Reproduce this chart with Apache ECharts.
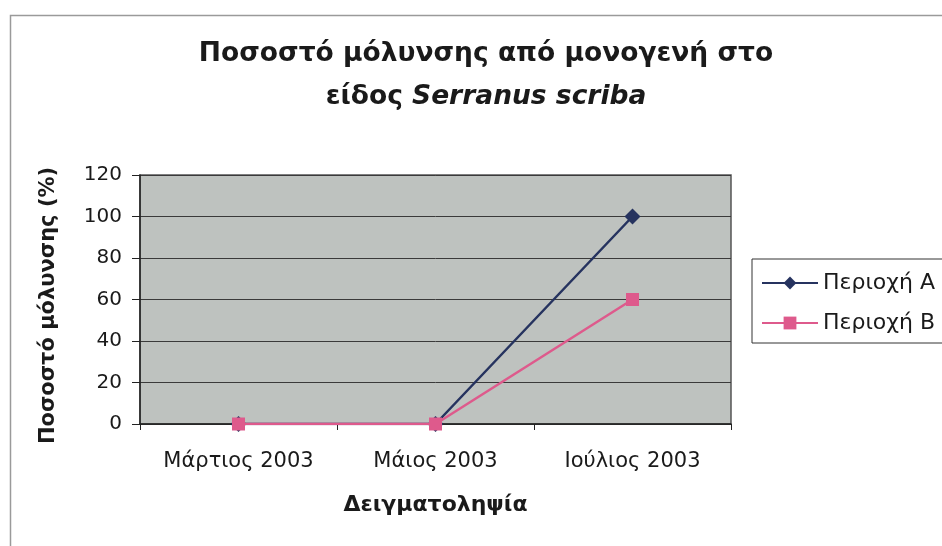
<!DOCTYPE html>
<html>
<head>
<meta charset="utf-8">
<script src="https://cdn.jsdelivr.net/npm/echarts@6/dist/echarts.min.js"></script>
<style>html,body{margin:0;padding:0;background:#fff}#c{width:942px;height:546px}</style>
</head>
<body>
<div id="c"></div>
<script>
const categories = ['Μάρτιος 2003', 'Μάιος 2003', 'Ιούλιος 2003'];
const seriesA = [0, 0, 100];
const seriesB = [0, 0, 60];
const seriesNames = ['Περιοχή Α', 'Περιοχή Β'];
const yTicks = { min: 0, max: 120, interval: 20 };

const FONT = '"DejaVu Sans", "Liberation Sans", Arial, sans-serif';
const chart = echarts.init(document.getElementById('c'), null, { renderer: 'canvas' });
chart.setOption({
  animation: false,
  backgroundColor: '#ffffff',
  textStyle: { fontFamily: FONT },
  graphic: [{
    type: 'rect', left: 8, top: 13, shape: { width: 1000, height: 600 },
    style: { fill: 'none', stroke: '#9a9a9a', lineWidth: 1.5 }, silent: true, z: -10
  }],
  title: {
    text: '{b|Ποσοστό μόλυνσης από μονογενή στο}\n{b|είδος }{i|Serranus scriba}',
    left: 481, top: 28, textAlign: 'center',
    textStyle: {
      rich: {
        b: { fontFamily: FONT, fontWeight: 'bold', fontSize: 26.5, color: '#1a1a1a', lineHeight: 43 },
        i: { fontFamily: FONT, fontWeight: 'bold', fontStyle: 'italic', fontSize: 26.5, color: '#1a1a1a', lineHeight: 43 }
      }
    }
  },
  legend: {
    orient: 'vertical',
    left: 752, top: 259,
    padding: [12, 40, 8, 9],
    itemWidth: 56, itemHeight: 16, itemGap: 16,
    borderColor: '#333', borderWidth: 1,
    backgroundColor: '#fff',
    textStyle: { fontFamily: FONT, fontSize: 22, color: '#1a1a1a', lineHeight: 24 },
    data: seriesNames
  },
  grid: {
    left: 140, right: 211, top: 175, bottom: 122,
    show: true, backgroundColor: '#bec2bf', borderColor: '#555', borderWidth: 1.5,
    containLabel: false
  },
  xAxis: {
    type: 'category', data: categories, boundaryGap: true,
    name: 'Δειγματοληψία', nameLocation: 'middle', nameGap: 70,
    nameTextStyle: { fontFamily: FONT, fontWeight: 'bold', fontSize: 22, color: '#1a1a1a' },
    axisLine: { lineStyle: { color: '#222', width: 1.5 } },
    axisTick: { show: true, length: 6, lineStyle: { color: '#222' } },
    axisLabel: { fontFamily: FONT, fontSize: 21, color: '#1a1a1a', margin: 27 },
    splitLine: { show: false }
  },
  yAxis: {
    type: 'value', min: yTicks.min, max: yTicks.max, interval: yTicks.interval,
    name: 'Ποσοστό μόλυνσης (%)', nameLocation: 'middle', nameGap: 81, nameRotate: 90,
    nameTextStyle: { fontFamily: FONT, fontWeight: 'bold', fontSize: 21, color: '#1a1a1a', padding: [0, 12, 0, 0] },
    axisLine: { show: true, lineStyle: { color: '#222', width: 1.5 } },
    axisTick: { show: true, length: 8, lineStyle: { color: '#222' } },
    axisLabel: { fontFamily: FONT, fontSize: 20, color: '#1a1a1a', margin: 18 },
    splitLine: { show: true, lineStyle: { color: '#3a3a3a', width: 1 } }
  },
  series: [
    {
      name: seriesNames[0], type: 'line', data: seriesA,
      symbol: 'diamond', symbolSize: 16,
      lineStyle: { color: '#26335f', width: 2.5 },
      itemStyle: { color: '#26335f' }, z: 3
    },
    {
      name: seriesNames[1], type: 'line', data: seriesB,
      symbol: 'rect', symbolSize: 13,
      lineStyle: { color: '#de5a8c', width: 2.5 },
      itemStyle: { color: '#de5a8c' }, z: 4
    }
  ]
});
</script>
</body>
</html>
